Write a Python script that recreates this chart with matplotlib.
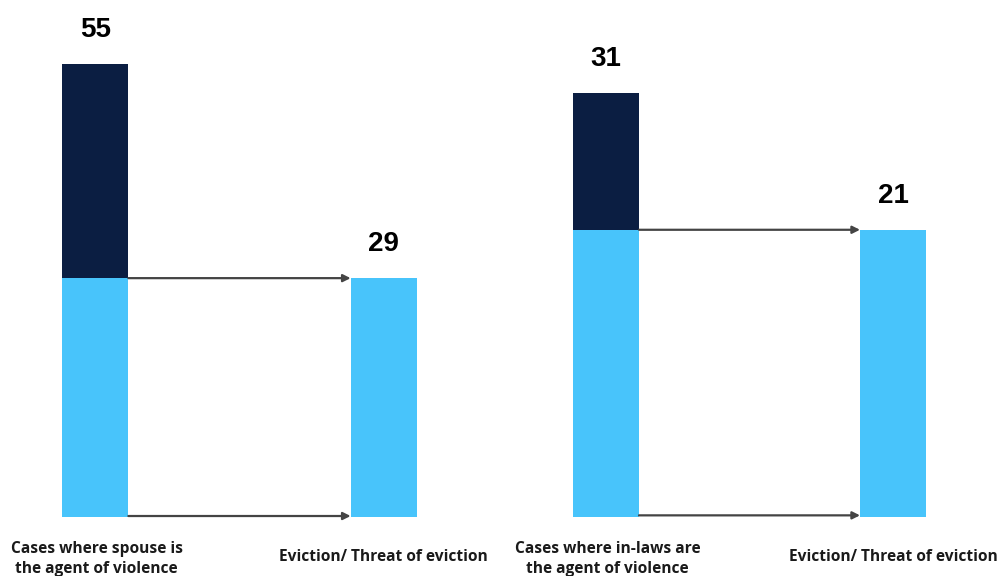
import matplotlib
matplotlib.use("Agg")
import matplotlib.pyplot as plt

# data
panels = ["spouse", "in-laws"]
totals = [55, 31]
evictions = [29, 21]
source_labels = ["Cases where spouse is\nthe agent of violence",
                 "Cases where in-laws are\nthe agent of violence"]
target_label = "Eviction/ Threat of eviction"

DARK = "#0b1e42"
LIGHT = "#48c4fb"
ARROW = "#444444"

W, H = 998, 576
fig = plt.figure(figsize=(W / 100, H / 100), dpi=100)

# pixel layout for each panel: (left edge of first bar, right edge of second bar, px per unit)
layout = [(62, 417, 453 / 55), (573, 926, 424 / 31)]
base_px = 517
bw = 0.23

for i in range(len(panels)):
    x0, x1, ppu = layout[i]
    ymax = 500 / ppu
    ax = fig.add_axes([x0 / W, (H - base_px) / H, (x1 - x0) / W, 500 / H])
    ax.set_xlim(-bw / 2, 1 + bw / 2)
    ax.set_ylim(0, ymax)
    ax.axis("off")

    total, ev = totals[i], evictions[i]
    # source bar: light part = evictions, dark part = rest
    ax.bar(0, ev, width=bw, color=LIGHT, linewidth=0)
    ax.bar(0, total - ev, bottom=ev, width=bw, color=DARK, linewidth=0)
    ax.bar(1, ev, width=bw, color=LIGHT, linewidth=0)

    # arrows from source to target
    for yv in (ev, 0.12):
        ax.annotate("", xy=(1 - bw / 2, yv), xytext=(bw / 2, yv),
                    arrowprops=dict(arrowstyle="-|>", color=ARROW, lw=1.6,
                                    mutation_scale=11, shrinkA=0, shrinkB=0),
                    annotation_clip=False)

    ax.text(0, total + 21 / ppu, str(total), ha="center", va="bottom",
            fontsize=20, fontweight="bold", family="Liberation Sans", clip_on=False)
    ax.text(1, ev + 21 / ppu, str(ev), ha="center", va="bottom",
            fontsize=20, fontweight="bold", family="Liberation Sans", clip_on=False)

    ax.text(0.005, -24 / ppu, source_labels[i], ha="center", va="top",
            fontsize=11.2, fontweight="bold", family="Open Sans",
            color="#1a1a1a", linespacing=1.3, clip_on=False)
    ax.text(1.0, -32 / ppu, target_label, ha="center", va="top",
            fontsize=11.2, fontweight="bold", family="Open Sans",
            color="#1a1a1a", clip_on=False)

fig.savefig("out.png", dpi=100, facecolor="white")
